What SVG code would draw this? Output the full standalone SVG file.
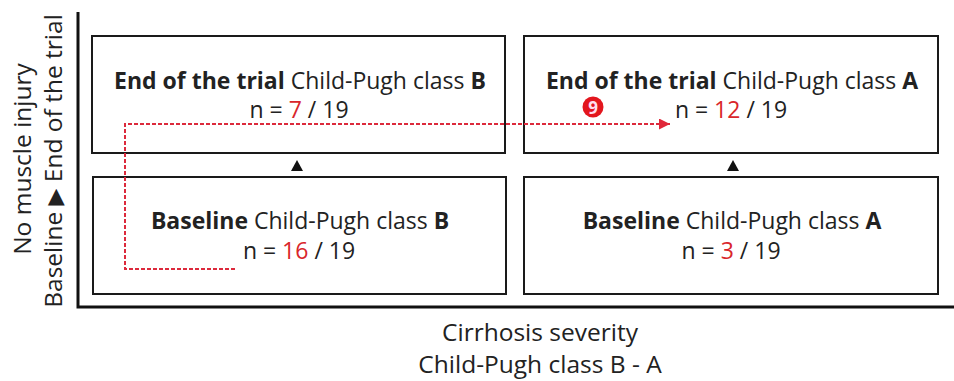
<svg xmlns="http://www.w3.org/2000/svg" width="954" height="381" viewBox="0 0 954 381">
<style>
text{font-family:"Open Sans","Liberation Sans",sans-serif;fill:#222}
.t{font-size:23px;text-anchor:middle}
.lab{font-size:24.5px;text-anchor:middle}
.b{font-weight:bold}
.r{fill:#d9262b}
.box{fill:#fff;stroke:#1a1a1a;stroke-width:2}
.ax{stroke:#111;stroke-width:3;fill:none}
.dash{stroke:#dc2a3c;stroke-width:2;stroke-dasharray:4 2;fill:none}
</style>
<defs>
<marker id="ah" markerWidth="12" markerHeight="12" refX="11" refY="5.5" orient="auto" markerUnits="userSpaceOnUse">
<path d="M0,0 L11,5.5 L0,11 Z" fill="#e0283a"/>
</marker>
</defs>
<rect width="954" height="381" fill="#fff"/>
<g id="axes">
<path class="ax" d="M78,12 V307 H954"/>
</g>
<g id="ylabel">
<text class="lab" transform="translate(31,159) rotate(-90)" font-size="25.5">No muscle injury</text>
<text class="lab" transform="translate(62,161) rotate(-90)" font-size="25.5">Baseline <tspan font-family="DejaVu Sans" font-size="22">▶</tspan> End of the trial</text>
</g>
<g id="xlabel">
<text class="lab" x="540" y="341">Cirrhosis severity</text>
<text class="lab" x="540" y="373">Child-Pugh class B - A</text>
</g>
<g id="end-B">
<rect class="box" x="92" y="36" width="413" height="117"/>
<text class="t" x="300" y="89"><tspan class="b">End of the trial</tspan> Child-Pugh class <tspan class="b">B</tspan></text>
<text class="t" x="299" y="118">n = <tspan class="r">7</tspan> / 19</text>
</g>
<g id="end-A">
<rect class="box" x="524" y="36" width="414" height="117"/>
<text class="t" x="732" y="89"><tspan class="b">End of the trial</tspan> Child-Pugh class <tspan class="b">A</tspan></text>
<text class="t" x="731" y="118">n = <tspan class="r">12</tspan> / 19</text>
</g>
<g id="base-B">
<rect class="box" x="93" y="177" width="413" height="117"/>
<text class="t" x="300" y="229"><tspan class="b">Baseline</tspan> Child-Pugh class <tspan class="b">B</tspan></text>
<text class="t" x="299" y="259">n = <tspan class="r">16</tspan> / 19</text>
</g>
<g id="base-A">
<rect class="box" x="524" y="177" width="414" height="117"/>
<text class="t" x="732" y="229"><tspan class="b">Baseline</tspan> Child-Pugh class <tspan class="b">A</tspan></text>
<text class="t" x="731" y="259">n = <tspan class="r">3</tspan> / 19</text>
</g>
<g id="connectors">
<path d="M291,171 L297,160 L303,171 Z" fill="#111"/>
<path d="M727,171 L733,160 L739,171 Z" fill="#111"/>
<path class="dash" d="M235,269 H125 V124 H670" marker-end="url(#ah)"/>
<g id="badge">
<circle cx="593" cy="107" r="10.5" fill="#e3161e"/>
<text x="593" y="113.5" text-anchor="middle" font-size="17" font-weight="bold" style="fill:#fde">9</text>
</g>
</g>
</svg>
